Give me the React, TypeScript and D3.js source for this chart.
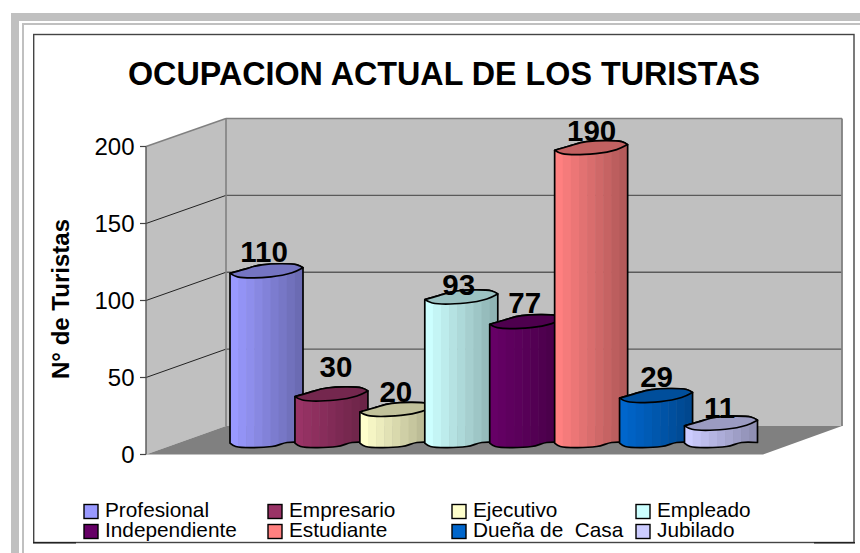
import React from "react";
import * as d3 from "d3";

const categories = ["Profesional", "Empresario", "Ejecutivo", "Empleado", "Independiente", "Estudiante", "Dueña de  Casa", "Jubilado"];
const values = [110, 30, 20, 93, 77, 190, 29, 11];
const colors = ["#9999FF", "#993366", "#FFFFCC", "#CCFFFF", "#660066", "#FF8080", "#0066CC", "#CCCCFF"];
const ticks = [0, 50, 100, 150, 200];
const labelNudgeY = [0, -8, 1, 7, 0, 2, 0, 3];
const labelNudgeX = [0, 7, 2, 0, 1, 3, 3, 1];

const FONT = "'Liberation Sans', Arial, sans-serif";
const yFront = d3.scaleLinear().domain([0, 200]).range([454.5, 146.5]);
const yBack = d3.scaleLinear().domain([0, 200]).range([426, 118.5]);
const xBar = d3.scaleLinear().domain([0, 7]).range([230, 684.5]);
const BAR_W = 73;
const BASE_Y = 446.5;
const WALL = { fl: 146, bl: 226, br: 842, fr: 763 };

const topBack: [number, number][] = [[0, -3.7], [14, -7.7], [32, -12.3], [67, -12.3], [73, -9.3]];
const topFront: [number, number][] = [[73, -9.3], [62, -4.3], [41, -0.3], [7.5, -0.3], [0, -3.7]];
const bottom: [number, number][] = [[0, -3.3], [5.7, 0], [42, 0], [57, -4], [73, -4]];

const curve = d3.line().curve(d3.curveCatmullRom.alpha(0.5));
const pts = (a: [number, number][], x: number, y: number) => a.map(([dx, dy]) => [x + dx, y + dy] as [number, number]);
const join = (...segs: [number, number][][]) =>
  segs.map((s, i) => { const d = curve(s) as string; return i === 0 ? d : "L" + d.slice(1); }).join("") + "Z";
const STRIPS = 9;
const stripShade = d3.scaleLinear().domain([0, STRIPS - 1]).range([1, 0.7]);
const scaleColor = (c: string, k: number) => {
  const r = d3.rgb(c);
  return d3.rgb(r.r * k, r.g * k, r.b * k).formatHex();
};

function Bar({ i }: { i: number }) {
  const x = xBar(i);
  const h = yFront(0) - yFront(values[i]);
  const yt = BASE_Y - h;
  const body = join(pts(topBack, x, yt), pts(bottom, x, BASE_Y).reverse());
  const ring = join(pts(topBack, x, yt), pts(topFront, x, yt));
  const cid = `clip-${i}`;
  return (
    <g>
      <clipPath id={cid}><path d={body} /></clipPath>
      <g clipPath={`url(#${cid})`}>
        {d3.range(STRIPS).map((s) => (
          <rect key={s} x={x + (s * BAR_W) / STRIPS} y={yt - 14} width={BAR_W / STRIPS + 0.5} height={h + 16} fill={scaleColor(colors[i], stripShade(s))} />
        ))}
      </g>
      <path d={body} fill="none" stroke="#000" strokeWidth={1.7} strokeLinejoin="round" />
      <path d={ring} fill={scaleColor(colors[i], 0.76)} stroke="#000" strokeWidth={1.7} strokeLinejoin="round" />
    </g>
  );
}

export default function App() {
  return (
    <svg width={860} height={553} style={{ position: "absolute", left: 0, top: 0, background: "#fff", fontFamily: FONT }}>
      {/* page frame */}
      <rect x={11} y={13} width={849} height={8} fill="#c0c0c0" />
      <rect x={11} y={13} width={8} height={540} fill="#c0c0c0" />
      <rect x={22} y={23} width={838} height={2} fill="#c0c0c0" />
      <rect x={22} y={23} width={2} height={530} fill="#c0c0c0" />
      {/* chart box */}
      <rect x={33.7} y={34.5} width={820.3} height={508} fill="#fff" stroke="#444" strokeWidth={1.4} />
      <line x1={33} x2={76} y1={542.8} y2={542.8} stroke="#222" strokeWidth={1.4} />
      <line x1={814} x2={855} y1={542.8} y2={542.8} stroke="#222" strokeWidth={1.4} />

      <text x={444} y={85} textAnchor="middle" fontSize={33} fontWeight="bold" fill="#000" textLength={632} lengthAdjust="spacingAndGlyphs">OCUPACION ACTUAL DE LOS TURISTAS</text>

      {/* walls and floor */}
      <polygon points={`${WALL.fl},${yFront(200)} ${WALL.bl},${yBack(200)} ${WALL.bl},${yBack(0)} ${WALL.fl},${yFront(0)}`} fill="#c0c0c0" />
      <rect x={WALL.bl} y={yBack(200)} width={WALL.br - WALL.bl} height={yBack(0) - yBack(200)} fill="#c0c0c0" />
      <polygon points={`${WALL.fl},${yFront(0)} ${WALL.bl},${yBack(0)} ${WALL.br},${yBack(0)} ${WALL.fr},${yFront(0)}`} fill="#808080" />
      {ticks.filter((t) => t > 0 && t < 200).map((t) => (
        <line key={t} x1={WALL.bl} x2={WALL.br} y1={yBack(t)} y2={yBack(t)} stroke="#5a5a5a" strokeWidth={1.4} />
      ))}
      {ticks.filter((t) => t > 0 && t < 200).map((t) => (
        <line key={t} x1={WALL.fl} x2={WALL.bl} y1={yFront(t)} y2={yBack(t)} stroke="#222" strokeWidth={1} />
      ))}
      <line x1={WALL.fl} x2={WALL.bl} y1={yFront(200)} y2={yBack(200)} stroke="#808080" strokeWidth={1.4} />
      <line x1={WALL.bl} x2={WALL.br} y1={yBack(200)} y2={yBack(200)} stroke="#808080" strokeWidth={1.6} />
      <line x1={WALL.bl} x2={WALL.bl} y1={yBack(200)} y2={yBack(0)} stroke="#808080" strokeWidth={1.6} />
      <line x1={WALL.br} x2={WALL.br} y1={yBack(200)} y2={yBack(0)} stroke="#808080" strokeWidth={1.8} />
      <line x1={WALL.fl} x2={WALL.fl} y1={yFront(200)} y2={yFront(0)} stroke="#555" strokeWidth={1.4} />

      {/* axis */}
      {ticks.map((t) => (
        <g key={t}>
          <line x1={140} x2={WALL.fl} y1={yFront(t)} y2={yFront(t)} stroke="#444" strokeWidth={1.2} />
          <text x={134.5} y={yFront(t) + 8} textAnchor="end" fontSize={24} fill="#000">{t}</text>
        </g>
      ))}
      <text transform={`translate(68.5,299) rotate(-90)`} textAnchor="middle" fontSize={24} fontWeight="bold" fill="#000" textLength={160} lengthAdjust="spacingAndGlyphs">N° de Turistas</text>

      {/* bars */}
      {values.map((_, i) => <Bar key={i} i={i} />)}

      {/* labels */}
      {values.map((v, i) => (
        <text key={i} x={xBar(i) + 34 + labelNudgeX[i]} y={BASE_Y - (yFront(0) - yFront(v)) - 15 + labelNudgeY[i]} textAnchor="middle" fontSize={29.5} fontWeight="bold" fill="#000">{v}</text>
      ))}

      {/* legend */}
      {categories.map((c, i) => {
        const col = i % 4;
        const row = Math.floor(i / 4);
        const lx = 84 + col * 184;
        const ly = 504.5 + row * 20;
        return (
          <g key={c}>
            <rect x={lx} y={ly} width={14} height={14} fill={colors[i]} stroke="#000" strokeWidth={1.4} />
            <text x={lx + 21} y={ly + 12.5} fontSize={20.8} fill="#000" style={{ whiteSpace: "pre" }}>{c}</text>
          </g>
        );
      })}
    </svg>
  );
}
